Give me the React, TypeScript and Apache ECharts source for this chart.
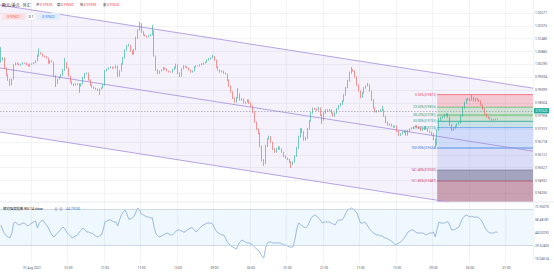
import React, { useEffect, useRef } from 'react';
import * as echarts from 'echarts';

// ---------- data ----------
const slotCount = 292; // hourly slots across the plot (incl. empty right margin)
const xTickStart = 17;
const xTickEvery = 20;
const xTickLabels = ['31 Aug 2022', '01:00', '21:00', '17:00', '13:00', '09:00', '05:00', '01:00', '21:00', '17:00', '13:00', '09:00', '05:00', '01:00'];

const yTickLabels = ['0.94336', '0.94932', '0.95527', '0.96122', '0.96718', '0.97313', '0.97908', '0.98504', '0.99099', '0.99694', '1.00290', '1.00885', '1.01480', '1.02076', '1.02671'];
const yTickBase = 0.94336;
const yTickStep = 0.0059536;
const priceMin = 0.93935;
const priceMax = 1.02936;

const rsiTickLabels = ['15.04514', '29.52403', '44.00292', '58.48181', '72.96070'];
const rsiTickBase = 15.04514;
const rsiTickStep = 14.47889;
const rsiMin = 11.704;
const rsiMax = 78.53;

const firstOpen = 1.0017;
const closes = [
  1.0026, 1.0035, 0.9991, 0.9959, 0.9937, 0.9915, 0.9942, 1.0004, 1.0013, 1.0008,
  1.0004, 1.0008, 1.0013, 1.0012, 1.0004, 0.9999, 1.0008, 1.0009, 1.0013, 1.0022,
  1.0044, 1.0057, 1.0053, 1.0044, 1.0040, 1.0035, 1.0013, 1.0022, 1.0017, 0.9955,
  0.9924, 0.9942, 0.9950, 0.9959, 0.9982, 1.0013, 0.9991, 0.9955, 0.9928, 0.9919,
  0.9915, 0.9919, 0.9920, 0.9910, 0.9919, 0.9946, 0.9964, 0.9968, 0.9937, 0.9915,
  0.9906, 0.9901, 0.9897, 0.9893, 0.9897, 0.9902, 0.9915, 0.9977, 0.9986, 0.9991,
  0.9995, 0.9990, 0.9991, 0.9999, 0.9955, 0.9977, 1.0008, 1.0035, 1.0071, 1.0089,
  1.0093, 1.0066, 1.0053, 1.0071, 1.0124, 1.0160, 1.0187, 1.0151, 1.0138, 1.0133,
  1.0129, 1.0134, 1.0138, 1.0156, 1.0044, 0.9982, 0.9968, 0.9977, 0.9982, 0.9991,
  0.9986, 0.9977, 0.9973, 0.9972, 0.9982, 0.9991, 1.0004, 0.9968, 0.9955, 0.9986,
  1.0000, 0.9995, 0.9991, 0.9982, 0.9973, 0.9977, 0.9995, 0.9999, 1.0000, 1.0004,
  1.0008, 1.0013, 1.0017, 1.0026, 1.0031, 1.0035, 1.0040, 1.0026, 0.9995, 0.9982,
  0.9973, 0.9977, 0.9968, 0.9964, 0.9937, 0.9910, 0.9884, 0.9857, 0.9839, 0.9857,
  0.9875, 0.9848, 0.9852, 0.9835, 0.9839, 0.9848, 0.9835, 0.9821, 0.9795, 0.9750,
  0.9719, 0.9701, 0.9643, 0.9581, 0.9567, 0.9643, 0.9674, 0.9683, 0.9661, 0.9630,
  0.9616, 0.9630, 0.9639, 0.9629, 0.9616, 0.9598, 0.9590, 0.9585, 0.9572, 0.9563,
  0.9572, 0.9598, 0.9634, 0.9683, 0.9719, 0.9705, 0.9670, 0.9679, 0.9719, 0.9754,
  0.9790, 0.9808, 0.9807, 0.9803, 0.9812, 0.9781, 0.9759, 0.9790, 0.9803, 0.9799,
  0.9804, 0.9790, 0.9777, 0.9790, 0.9808, 0.9821, 0.9830, 0.9844, 0.9870, 0.9902,
  0.9933, 0.9968, 0.9982, 0.9977, 0.9951, 0.9915, 0.9888, 0.9861, 0.9879, 0.9901,
  0.9910, 0.9915, 0.9888, 0.9848, 0.9812, 0.9795, 0.9799, 0.9798, 0.9803, 0.9804,
  0.9777, 0.9750, 0.9737, 0.9741, 0.9732, 0.9728, 0.9732, 0.9710, 0.9692, 0.9697,
  0.9705, 0.9710, 0.9692, 0.9710, 0.9719, 0.9723, 0.9728, 0.9732, 0.9727, 0.9723,
  0.9714, 0.9718, 0.9728, 0.9719, 0.9710, 0.9705, 0.9697, 0.9674, 0.9648, 0.9714,
  0.9759, 0.9768, 0.9772, 0.9781, 0.9786, 0.9772, 0.9737, 0.9714, 0.9723, 0.9732,
  0.9741, 0.9745, 0.9777, 0.9812, 0.9835, 0.9848, 0.9852, 0.9848, 0.9857, 0.9844,
  0.9853, 0.9847, 0.9843, 0.9826, 0.9808, 0.9786, 0.9772, 0.9768, 0.9764, 0.9759,
  0.9760, 0.9763, 0.97626,
];
// wick lengths in pips beyond the candle body
const upperWicks = [
  58, 4, 3, 2, 3, 5, 2, 4, 3, 2, 3, 2, 4, 2, 3, 2, 3, 2, 4, 3,
  6, 22, 4, 3, 2, 3, 2, 4, 3, 2, 3, 2, 3, 4, 5, 22, 3, 2, 2, 3,
  2, 3, 2, 3, 4, 5, 4, 3, 2, 2, 3, 2, 2, 3, 2, 3, 4, 4, 3, 2,
  3, 2, 3, 4, 2, 3, 4, 5, 3, 4, 6, 2, 3, 5, 6, 4, 9, 3, 4, 3,
  2, 3, 4, 27, 3, 2, 3, 2, 3, 4, 2, 3, 2, 3, 4, 5, 6, 2, 3, 4,
  3, 2, 3, 2, 2, 3, 4, 3, 2, 3, 4, 3, 2, 3, 4, 3, 9, 4, 2, 3,
  2, 3, 2, 3, 2, 3, 2, 3, 3, 5, 27, 3, 4, 3, 2, 3, 2, 3, 2, 3,
  2, 3, 2, 2, 3, 5, 4, 6, 3, 2, 3, 4, 3, 2, 3, 2, 3, 2, 2, 3,
  3, 4, 5, 6, 4, 3, 4, 5, 4, 5, 4, 6, 5, 4, 5, 3, 3, 5, 4, 3,
  4, 3, 2, 3, 4, 5, 4, 3, 4, 5, 5, 6, 13, 4, 3, 2, 3, 2, 5, 4,
  3, 9, 3, 2, 3, 3, 4, 3, 4, 18, 3, 2, 3, 3, 2, 3, 2, 3, 2, 3,
  4, 3, 3, 4, 3, 4, 3, 3, 4, 3, 3, 4, 3, 4, 3, 3, 2, 3, 3, 4,
  6, 5, 4, 5, 4, 3, 2, 3, 4, 3, 3, 4, 5, 6, 5, 6, 5, 4, 13, 4,
  5, 4, 3, 3, 2, 3, 2, 3, 2, 2, 3, 2, 2,
];
const lowerWicks = [
  3, 2, 3, 4, 3, 5, 2, 3, 2, 3, 2, 3, 2, 3, 2, 3, 2, 3, 2, 2,
  2, 3, 2, 3, 2, 3, 4, 3, 2, 3, 18, 4, 3, 2, 3, 4, 3, 2, 3, 4,
  5, 3, 4, 30, 3, 2, 3, 2, 3, 4, 3, 4, 3, 4, 22, 3, 2, 3, 2, 3,
  2, 3, 2, 3, 4, 3, 2, 3, 2, 3, 2, 3, 4, 3, 2, 3, 3, 4, 3, 2,
  3, 2, 3, 2, 3, 4, 5, 3, 2, 3, 3, 2, 3, 2, 3, 2, 3, 4, 5, 3,
  2, 3, 2, 3, 4, 3, 2, 3, 2, 3, 2, 3, 2, 3, 2, 3, 2, 3, 4, 3,
  3, 2, 3, 2, 4, 3, 4, 5, 4, 3, 2, 3, 4, 3, 4, 3, 4, 3, 5, 4,
  5, 6, 6, 7, 13, 5, 4, 3, 4, 5, 4, 3, 4, 3, 4, 5, 4, 5, 5, 18,
  5, 4, 3, 4, 3, 5, 4, 3, 4, 3, 3, 4, 3, 4, 3, 4, 18, 3, 4, 3,
  3, 4, 3, 4, 3, 3, 2, 3, 3, 3, 2, 3, 3, 3, 4, 4, 3, 5, 4, 3,
  3, 2, 3, 4, 4, 3, 3, 4, 3, 3, 4, 5, 3, 4, 3, 4, 3, 4, 5, 4,
  3, 4, 3, 3, 4, 3, 3, 3, 4, 3, 4, 3, 3, 3, 4, 4, 5, 5, 13, 3,
  3, 4, 3, 3, 4, 3, 4, 5, 4, 3, 3, 3, 2, 3, 3, 3, 3, 3, 3, 3,
  3, 3, 4, 4, 4, 3, 3, 3, 3, 2, 3, 2, 3,
];
const rsiValues = [
  52.9, 47.4, 43.0, 40.7, 39.6, 38.4, 44.0, 55.1, 56.3, 54.0,
  52.9, 54.0, 55.1, 54.6, 52.9, 51.8, 54.0, 55.1, 56.3, 57.4,
  49.6, 55.1, 57.4, 58.5, 55.1, 52.9, 49.6, 45.1, 41.8, 39.6,
  41.8, 44.0, 46.2, 48.5, 50.7, 48.5, 45.1, 43.0, 40.7, 38.4,
  39.6, 40.7, 41.8, 45.1, 47.4, 49.6, 47.4, 45.1, 45.1, 44.0,
  44.0, 41.8, 40.7, 39.6, 40.7, 41.8, 47.4, 56.3, 57.4, 58.5,
  58.5, 57.4, 56.3, 56.3, 51.8, 58.5, 64.1, 67.4, 69.6, 65.2,
  59.6, 59.6, 60.7, 62.9, 67.4, 71.9, 69.6, 65.2, 64.1, 62.9,
  61.8, 61.8, 60.7, 60.7, 49.6, 43.0, 40.7, 39.6, 40.7, 41.8,
  43.0, 44.0, 43.0, 41.8, 41.8, 44.0, 46.2, 47.4, 47.4, 46.2,
  45.1, 45.1, 47.4, 48.5, 49.6, 49.6, 47.4, 45.1, 47.4, 49.6,
  51.8, 52.9, 54.0, 55.1, 55.1, 55.1, 54.0, 49.6, 46.2, 44.0,
  43.0, 41.8, 41.8, 38.4, 34.0, 31.8, 29.5, 28.4, 27.3, 26.2,
  30.6, 34.0, 36.2, 35.1, 34.0, 32.9, 32.9, 31.8, 30.6, 28.4,
  26.2, 25.1, 21.7, 18.4, 16.2, 27.3, 32.9, 34.0, 34.0, 32.9,
  32.9, 32.9, 32.9, 32.9, 31.8, 30.6, 30.6, 29.5, 28.4, 28.4,
  28.4, 36.2, 47.4, 55.1, 54.0, 51.8, 50.7, 49.6, 51.8, 56.3,
  60.7, 62.9, 64.1, 62.9, 60.7, 58.5, 55.1, 56.3, 56.3, 56.3,
  56.3, 55.1, 54.0, 52.9, 56.3, 58.5, 58.5, 58.5, 61.8, 66.3,
  69.6, 70.7, 71.9, 70.7, 68.5, 66.3, 60.7, 55.1, 55.1, 56.3,
  55.1, 51.8, 48.5, 46.2, 44.0, 43.0, 41.8, 41.8, 40.7, 40.7,
  38.4, 38.4, 37.3, 36.2, 35.1, 32.9, 30.6, 31.8, 32.9, 34.0,
  36.2, 38.4, 41.8, 45.1, 46.2, 47.4, 47.4, 45.1, 44.0, 44.0,
  44.0, 44.0, 43.0, 41.8, 43.0, 44.0, 44.0, 45.1, 39.6, 48.5,
  56.3, 55.1, 55.1, 55.1, 56.3, 56.3, 51.8, 47.4, 47.4, 48.5,
  49.6, 50.7, 56.3, 60.7, 62.9, 64.1, 62.9, 61.8, 62.9, 61.8,
  61.8, 61.8, 60.7, 58.5, 55.1, 50.7, 47.4, 45.1, 44.0, 44.0,
  44.0, 45.1, 44.7903,
];
const rsiBandTop = 70;
const rsiBandBottom = 30;

// channel anchors (candle index -> price)
const channelIdx = [0, 272];
const channelUpper = [1.02707, 0.99255];
const channelMid = [0.999, 0.96448];
const channelLower = [0.97048, 0.93596];

// fibonacci retracement
const fibStartIdx = 239;
const fibHigh = 0.9872;
const fibLow = 0.9634;
const fibRatios = [0, 0.236, 0.382, 0.5, 0.618, 1, 1.414, 1.618];
const fibLineColors = ['#f0606e', '#66bb6a', '#4caf50', '#26a69a', '#5a9be8', '#2f7fe0', '#6f6f95', '#b0506a'];
const fibTextColors = ['#e84a5c', '#43a047', '#43a047', '#2e9e7e', '#2e9e7e', '#2f6fe0', '#c2405a', '#d04458'];
const fibFills = [
  'rgba(242,54,69,0.22)',
  'rgba(76,175,80,0.22)',
  'rgba(76,175,80,0.24)',
  'rgba(38,166,154,0.22)',
  'rgba(66,133,244,0.2)',
  'rgba(80,110,220,0.16)',
  'rgba(50,58,110,0.42)',
  'rgba(140,50,78,0.42)',
];

const instrumentTitle = '欧元/美元 · 外汇';
const bidAsk = ['0.97621', '0.1', '0.97622'];
const rsiTitle = '相对强弱指数 RSI 14 close';

const FONT = 'Roboto, "Noto Sans", "Noto Sans CJK SC", sans-serif';
const UP = '#22ab94';
const DOWN = '#ef5350';

// pane geometry
const PLOT_W = 533;
const MAIN_TOP = 0;
const MAIN_H = 202;
const RSI_TOP = 202;
const RSI_H = 60;

export default function App() {
  const ref = useRef<HTMLDivElement>(null);

  useEffect(() => {
    if (!ref.current) return;
    const chart = echarts.init(ref.current, undefined, { renderer: 'svg' });

    const categories = Array.from({ length: slotCount }, (_, i) => String(i));
    const candles = closes.map((c, i) => {
      const o = i === 0 ? firstOpen : closes[i - 1];
      const hi = Math.max(o, c) + (upperWicks[i] ?? 0) * 0.0001;
      const lo = Math.min(o, c) - (lowerWicks[i] ?? 0) * 0.0001;
      return [o, c, lo, hi];
    });
    const last = candles[candles.length - 1];
    const lastClose = closes[closes.length - 1];

    // label grids: same pixel scale as the data panes, but extents on whole tick indices
    const mainPx = MAIN_H / (priceMax - priceMin);
    const mainY = (p: number) => MAIN_TOP + (priceMax - p) * mainPx;
    const mainLblTop = mainY(yTickBase + yTickLabels.length * yTickStep);
    const mainLblBottom = mainY(yTickBase - yTickStep);
    const rsiPx = RSI_H / (rsiMax - rsiMin);
    const rsiY = (v: number) => RSI_TOP + (rsiMax - v) * rsiPx;
    const rsiLblTop = rsiY(rsiTickBase + rsiTickLabels.length * rsiTickStep);
    const rsiLblBottom = rsiY(rsiTickBase - rsiTickStep);

    const tickShown = (i: number) => i >= xTickStart && (i - xTickStart) % xTickEvery === 0;
    const idxLabel = (labels: string[]) => (v: number) => {
      const k = Math.round(v);
      return Math.abs(v - k) < 1e-6 && labels[k] ? labels[k] : '';
    };

    const gridLine = { show: true, lineStyle: { color: '#eef0f4', width: 0.8 } };

    const overlayRender = (params: any, api: any) => {
      const cs = params.coordSys;
      const left = cs.x;
      const right = cs.x + cs.width;
      const top = cs.y;
      const bottom = cs.y + cs.height;
      const lineAt = (vals: number[]) => {
        const a = api.coord([channelIdx[0], vals[0]]);
        const b = api.coord([channelIdx[1], vals[1]]);
        const k = (b[1] - a[1]) / (b[0] - a[0]);
        return [
          [left, a[1] + k * (left - a[0])],
          [right, a[1] + k * (right - a[0])],
        ];
      };
      const clipSeg = (seg: number[][]) => {
        let [p0, p1] = seg;
        const cut = (pa: number[], pb: number[], yy: number) => {
          const t = (yy - pa[1]) / (pb[1] - pa[1]);
          return [pa[0] + t * (pb[0] - pa[0]), yy];
        };
        if (p1[1] > bottom) p1 = cut(p0, p1, bottom);
        if (p0[1] < top) p0 = cut(p0, p1, top);
        return [p0, p1];
      };
      const up = lineAt(channelUpper);
      const mid = lineAt(channelMid);
      const lo = lineAt(channelLower);
      const children: any[] = [];

      const loC = clipSeg(lo);
      const poly: number[][] = [up[0], up[1]];
      if (lo[1][1] > bottom) {
        poly.push([right, bottom]);
        poly.push(loC[1]);
      } else {
        poly.push(lo[1]);
      }
      poly.push(lo[0]);
      children.push({ type: 'polygon', shape: { points: poly }, style: { fill: 'rgba(150,110,225,0.09)' } });

      // fibonacci bands
      const fx0 = api.coord([fibStartIdx, fibHigh])[0];
      const levels = fibRatios.map((r) => fibHigh - r * (fibHigh - fibLow));
      const ys = levels.map((p) => api.coord([fibStartIdx, p])[1]);
      ys.forEach((y0, j) => {
        const y1 = j + 1 < ys.length ? ys[j + 1] : bottom;
        children.push({
          type: 'rect',
          shape: { x: fx0, y: y0, width: right - fx0, height: Math.min(y1, bottom) - y0 },
          style: { fill: fibFills[j] },
        });
      });
      ys.forEach((y0, j) => {
        children.push({
          type: 'line',
          shape: { x1: fx0, y1: y0, x2: right, y2: y0 },
          style: { stroke: fibLineColors[j], lineWidth: 0.8 },
        });
        children.push({
          type: 'text',
          x: fx0 - 1,
          y: y0,
          style: {
            text: `${(fibRatios[j] * 100).toFixed(2)}%(${levels[j].toFixed(4)})`,
            fill: fibTextColors[j],
            fontSize: 3.3,
            fontFamily: FONT,
            align: 'right',
            verticalAlign: 'middle',
          },
        });
      });

      // channel lines
      [up, mid, loC].forEach((seg) => {
        const s = clipSeg(seg);
        children.push({
          type: 'line',
          shape: { x1: s[0][0], y1: s[0][1], x2: s[1][0], y2: s[1][1] },
          style: { stroke: '#a58ce0', lineWidth: 0.8 },
        });
      });
      return { type: 'group', children };
    };

    const txt = (x: number, y: number, text: string, fill: string, size = 3.4, align = 'left') => ({
      type: 'text',
      x,
      y,
      z: 100,
      style: { text, fill, fontSize: size, fontFamily: FONT, align, verticalAlign: 'middle' },
    });

    const option: any = {
      animation: false,
      backgroundColor: '#ffffff',
      textStyle: { fontFamily: FONT },
      grid: [
        { left: 0, top: MAIN_TOP, width: PLOT_W, height: MAIN_H },
        { left: 0, top: RSI_TOP, width: PLOT_W, height: RSI_H },
        { left: 0, top: mainLblTop, width: PLOT_W, height: mainLblBottom - mainLblTop },
        { left: 0, top: rsiLblTop, width: PLOT_W, height: rsiLblBottom - rsiLblTop },
      ],
      xAxis: [
        {
          type: 'category',
          gridIndex: 0,
          data: categories,
          axisLine: { show: false },
          axisTick: { show: false },
          axisLabel: { show: false },
          splitLine: { ...gridLine, interval: (i: number) => tickShown(i) },
        },
        {
          type: 'category',
          gridIndex: 1,
          data: categories,
          axisLine: { show: false },
          axisTick: { show: false },
          axisLabel: {
            show: true,
            interval: (i: number) => tickShown(i),
            formatter: (_v: string, i: number) => xTickLabels[(i - xTickStart) / xTickEvery] ?? '',
            fontSize: 3.2,
            color: '#555a66',
            margin: 4,
          },
          splitLine: { ...gridLine, interval: (i: number) => tickShown(i) },
        },
        { type: 'value', gridIndex: 2, min: 0, max: 1, show: false },
        { type: 'value', gridIndex: 3, min: 0, max: 1, show: false },
      ],
      yAxis: [
        { type: 'value', gridIndex: 0, min: priceMin, max: priceMax, show: false, splitLine: { show: false } },
        { type: 'value', gridIndex: 1, min: rsiMin, max: rsiMax, show: false, splitLine: { show: false } },
        {
          type: 'value',
          gridIndex: 2,
          position: 'right',
          min: -1,
          max: yTickLabels.length,
          interval: 1,
          axisLine: { show: false },
          axisTick: { show: false },
          axisLabel: { formatter: idxLabel(yTickLabels), fontSize: 3.3, color: '#555a66', margin: 2 },
          splitLine: { ...gridLine, showMinLine: false, showMaxLine: false },
        },
        {
          type: 'value',
          gridIndex: 3,
          position: 'right',
          min: -1,
          max: rsiTickLabels.length,
          interval: 1,
          axisLine: { show: false },
          axisTick: { show: false },
          axisLabel: { formatter: idxLabel(rsiTickLabels), fontSize: 3.3, color: '#555a66', margin: 2 },
          splitLine: { show: false },
        },
      ],
      series: [
        {
          type: 'custom',
          xAxisIndex: 0,
          yAxisIndex: 0,
          z: 1,
          silent: true,
          renderItem: overlayRender,
          data: [[fibStartIdx, fibHigh]],
        },
        {
          type: 'candlestick',
          xAxisIndex: 0,
          yAxisIndex: 0,
          z: 3,
          barWidth: 1,
          data: candles,
          itemStyle: { color: UP, color0: DOWN, borderColor: UP, borderColor0: DOWN, borderWidth: 0.6 },
          markLine: {
            silent: true,
            symbol: ['none', 'none'],
            data: [{ yAxis: lastClose }],
            lineStyle: { type: [1.5, 1.5], color: '#8a8e99', width: 0.6 },
            label: {
              position: 'end',
              distance: 1,
              formatter: lastClose.toFixed(5),
              backgroundColor: UP,
              color: '#ffffff',
              fontSize: 3.3,
              padding: [1, 1.5],
            },
          },
        },
        {
          type: 'line',
          xAxisIndex: 1,
          yAxisIndex: 1,
          data: rsiValues,
          symbol: 'none',
          z: 3,
          lineStyle: { color: '#86aad6', width: 0.8 },
          markArea: {
            silent: true,
            itemStyle: { color: 'rgba(33,150,243,0.07)' },
            data: [[{ yAxis: rsiBandTop }, { yAxis: rsiBandBottom }]],
          },
          markLine: {
            silent: true,
            symbol: ['none', 'none'],
            label: { show: false },
            lineStyle: { color: '#c3d2e4', type: 'solid', width: 0.8 },
            data: [{ yAxis: rsiBandTop }, { yAxis: rsiBandBottom }],
          },
        },
      ],
      graphic: [
        { type: 'line', z: 90, shape: { x1: 0, y1: RSI_TOP, x2: 554, y2: RSI_TOP }, style: { stroke: '#e0e3eb', lineWidth: 0.8 } },
        txt(2, 5, instrumentTitle, '#131722', 4),
        txt(36, 5, '开', '#131722'),
        txt(40, 5, last[0].toFixed(5), '#f23645'),
        txt(57, 5, '高', '#131722'),
        txt(61, 5, last[3].toFixed(5), '#f23645'),
        txt(80, 5, '低', '#131722'),
        txt(84, 5, last[2].toFixed(5), '#f23645'),
        txt(103, 5, '收', '#131722'),
        txt(107, 5, last[1].toFixed(5), '#f23645'),
        { type: 'rect', z: 99, shape: { x: 2, y: 13, width: 23, height: 7, r: 1 }, style: { fill: '#fde2e5' } },
        txt(13.5, 16.5, bidAsk[0], '#f23645', 3.4, 'center'),
        { type: 'rect', z: 99, shape: { x: 27, y: 13, width: 8, height: 7, r: 1 }, style: { fill: '#ffffff', stroke: '#e0e3eb', lineWidth: 0.5 } },
        txt(31, 16.5, bidAsk[1], '#131722', 3.4, 'center'),
        { type: 'rect', z: 99, shape: { x: 37, y: 13, width: 23, height: 7, r: 1 }, style: { fill: '#e3eefd' } },
        txt(48.5, 16.5, bidAsk[2], '#2962ff', 3.4, 'center'),
        txt(3, 209, rsiTitle, '#131722', 3.4),
        { type: 'circle', z: 100, shape: { cx: 56, cy: 209, r: 1.2 }, style: { fill: 'none', stroke: '#6a6d78', lineWidth: 0.5 } },
        { type: 'circle', z: 100, shape: { cx: 61, cy: 209, r: 1.2 }, style: { fill: 'none', stroke: '#6a6d78', lineWidth: 0.5 } },
        txt(66, 209, rsiValues[rsiValues.length - 1].toFixed(5), '#2f7fe0'),
      ],
    };

    chart.setOption(option);
    return () => chart.dispose();
  }, []);

  return (
    <div
      ref={ref}
      style={{ position: 'fixed', left: 0, top: 0, width: 554, height: 273, background: '#fff' }}
    />
  );
}
